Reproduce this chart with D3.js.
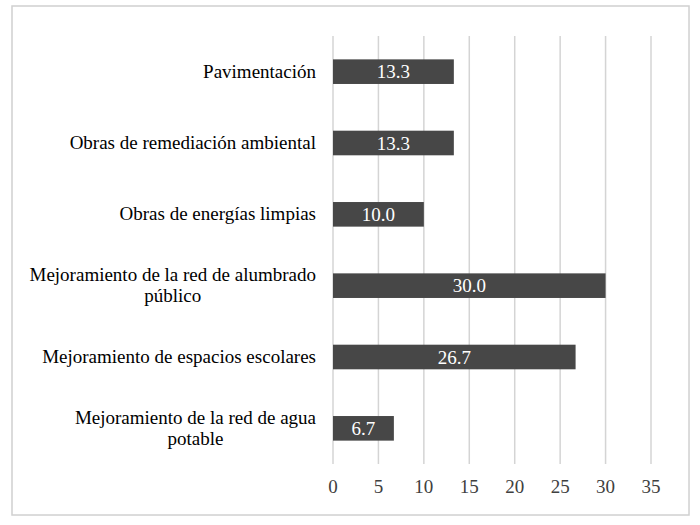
<!DOCTYPE html>
<html><head><meta charset="utf-8">
<script src="https://cdn.jsdelivr.net/npm/d3@7"></script>
</head><body style="margin:0">
<script>
const categories = [
  ["Pavimentación"],
  ["Obras de remediación ambiental"],
  ["Obras de energías limpias"],
  ["Mejoramiento de la red de alumbrado", "público"],
  ["Mejoramiento de espacios escolares"],
  ["Mejoramiento de la red de agua", "potable"]
];
const values = [13.3, 13.3, 10.0, 30.0, 26.7, 6.7];
const ticks = [0, 5, 10, 15, 20, 25, 30, 35];

const W = 700, H = 525;
const FS = 19;
const svg = d3.select("body").append("svg").attr("width", W).attr("height", H);

svg.append("rect").attr("x", 12).attr("y", 6).attr("width", 677).attr("height", 509)
  .attr("fill", "#fff").attr("stroke", "#d0d0d0").attr("stroke-width", 1.5);

const x = d3.scaleLinear().domain([0, 35]).range([333, 651]);
const y = d3.scaleBand().domain(d3.range(categories.length)).range([36, 464]).paddingInner(0.655).paddingOuter(0.3275);

svg.append("g").selectAll("line").data(ticks).join("line")
  .attr("x1", d => x(d)).attr("x2", d => x(d)).attr("y1", 36).attr("y2", 464)
  .attr("stroke", "#d4d4d4").attr("stroke-width", 1.5);

svg.append("g").selectAll("text").data(ticks).join("text")
  .attr("x", d => x(d)).attr("y", 493).attr("text-anchor", "middle")
  .style("font-family", '"Liberation Serif"').attr("font-size", FS).attr("fill", "#404040")
  .text(d => d);

svg.append("g").selectAll("rect").data(values).join("rect")
  .attr("x", x(0)).attr("y", (d, i) => y(i)).attr("width", d => x(d) - x(0)).attr("height", y.bandwidth())
  .attr("fill", "#474747");

svg.append("g").selectAll("text").data(values).join("text")
  .attr("x", d => (x(0) + x(d)) / 2).attr("y", (d, i) => y(i) + y.bandwidth() / 2 + 6.5)
  .attr("text-anchor", "middle").style("font-family", '"Liberation Serif"').attr("font-size", FS).attr("fill", "#fff")
  .text(d => d.toFixed(1));

const labRight = 316;
categories.forEach((lines, i) => {
  const cy = y(i) + y.bandwidth() / 2;
  const lh = 21;
  const g = svg.append("g");
  const texts = lines.map((t, k) => g.append("text")
    .style("font-family", '"Liberation Serif"').attr("font-size", FS).attr("fill", "#000")
    .attr("y", cy + 6 + (k - (lines.length - 1) / 2) * lh).text(t));
  const widths = texts.map(t => t.node().getComputedTextLength());
  const maxW = d3.max(widths);
  const center = labRight - maxW / 2;
  texts.forEach(t => t.attr("x", center).attr("text-anchor", "middle"));
});
</script>
</body></html>
